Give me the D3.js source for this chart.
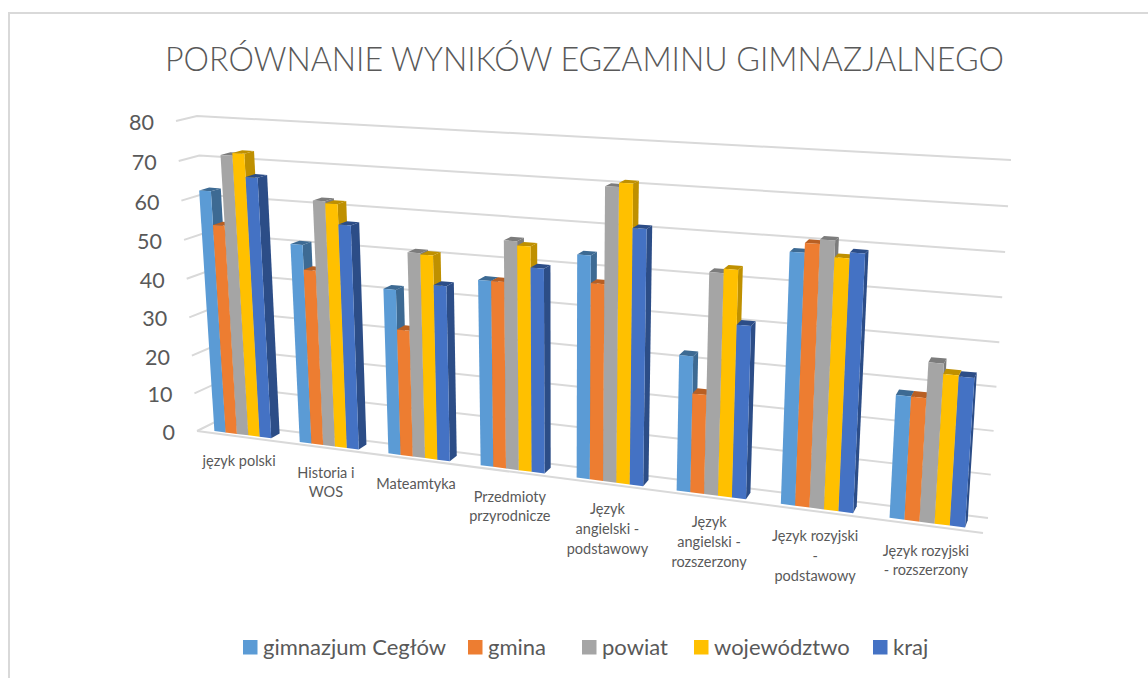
<!DOCTYPE html>
<html>
<head>
<meta charset="utf-8">
<script src="https://cdnjs.cloudflare.com/ajax/libs/d3/7.8.5/d3.min.js"></script>
<style>
body { margin: 0; background: #fff; }
text { font-family: Lato, "Open Sans", sans-serif; fill: #595959; }
</style>
</head>
<body>
<svg id="wykres" width="1148" height="678"></svg>
<script>
const kategorie = [
  ['język polski'],
  ['Historia i', 'WOS'],
  ['Mateamtyka'],
  ['Przedmioty', 'przyrodnicze'],
  ['Język', 'angielski -', 'podstawowy'],
  ['Język', 'angielski -', 'rozszerzony'],
  ['Język rozyjski', '-', 'podstawowy'],
  ['Język rozyjski', '- rozszerzony']
];
const serie = ['gimnazjum Cegłów', 'gmina', 'powiat', 'województwo', 'kraj'];
const gimnazjum = [62.5, 50.7, 41.5, 45.7, 53.7, 32.2, 58, 28];
const gmina = [54, 44.5, 31.7, 45.7, 47.2, 23.5, 60.2, 28];
const powiat = [71.8, 62, 51, 55.7, 70, 52, 61.2, 36];
const wojewodztwo = [72.5, 61.5, 50.7, 54.7, 71, 53, 57.5, 33.7];
const kraj = [66.7, 56.5, 43.5, 49.7, 60.8, 40.5, 58.8, 33.5];
const wartosci = [gimnazjum, gmina, powiat, wojewodztwo, kraj];
const kolory = ['#5b9bd5', '#ed7d31', '#a5a5a5', '#ffc000', '#4472c4'];
const ciemne = ['#3d6a93', '#b85f23', '#7c7c7c', '#bf9000', '#2c4d87'];
const ticki = [0, 10, 20, 30, 40, 50, 60, 70, 80];

const svg = d3.select('#wykres');

// ramka wykresu
svg.append('path')
  .attr('d', 'M9,678V13H1148')
  .attr('fill', 'none')
  .attr('stroke', '#d9d9d9')
  .attr('stroke-width', 2);

// narozniki "pudelka" 3D: p[u][v][d]
const rogi = {
  '000': [197, 431], '010': [176, 121], '001': [215, 422], '011': [197, 116],
  '100': [983, 533], '110': [1007, 165], '101': [988, 518], '111': [1011, 160]
};
const perspektywa = k => t => t * (1 - k) / (1 - k * t);
const fu = perspektywa(0.15);
const fv = perspektywa(0.035);

const skalaU = d3.scaleLinear().domain([0, kategorie.length]).range([0, 1]);
const skalaV = d3.scaleLinear().domain([0, 80]).range([0, 1]);
const lerp = (a, b, t) => a + (b - a) * t;

// kategoria (moze byc ulamkowa), wartosc, glebokosc -> piksele
function rzut(k, w, g) {
  const u = fu(skalaU(k)), v = fv(skalaV(w));
  return [0, 1].map(o => {
    const c = s => rogi[s][o];
    const d0 = lerp(lerp(c('000'), c('100'), u), lerp(c('010'), c('110'), u), v);
    const d1 = lerp(lerp(c('001'), c('101'), u), lerp(c('011'), c('111'), u), v);
    return lerp(d0, d1, g);
  });
}

const linia = d3.line();

// siatka
const siatka = svg.append('g').attr('fill', 'none').attr('stroke', '#d9d9d9').attr('stroke-width', 2);
ticki.forEach(t => {
  siatka.append('path').attr('d', linia([rzut(0, t, 0), rzut(0, t, 1), rzut(kategorie.length, t, 1)]));
});
siatka.append('path').attr('d', linia([rzut(0, 0, 0), rzut(kategorie.length, 0, 0)]));

// slupki
const przerwa = 0.165, sz = (1 - 2 * przerwa) / serie.length;
const przod = 0.2, tyl = 0.7;
const slupki = svg.append('g');
kategorie.forEach((_, i) => {
  wartosci.forEach((seria, s) => {
    const w = seria[i];
    const k0 = i + przerwa + s * sz, k1 = k0 + sz;
    const g = slupki.append('g');
    g.append('path').attr('fill', ciemne[s])
      .attr('d', linia([rzut(k1, 0, przod), rzut(k1, 0, tyl), rzut(k1, w, tyl), rzut(k1, w, przod)]) + 'Z');
    g.append('path').attr('fill', ciemne[s])
      .attr('d', linia([rzut(k0, w, przod), rzut(k1, w, przod), rzut(k1, w, tyl), rzut(k0, w, tyl)]) + 'Z');
    g.append('path').attr('fill', kolory[s])
      .attr('d', linia([rzut(k0, 0, przod), rzut(k1, 0, przod), rzut(k1, w, przod), rzut(k0, w, przod)]) + 'Z');
  });
});

// etykiety osi Y
svg.append('g').selectAll('text').data(ticki).join('text')
  .attr('x', d => rzut(0, d, 0)[0] - 22)
  .attr('y', d => rzut(0, d, 0)[1] + 9)
  .attr('text-anchor', 'end')
  .attr('font-size', 21.5)
  .text(d => d);

// etykiety kategorii
const etykiety = svg.append('g').selectAll('text').data(kategorie).join('text')
  .attr('text-anchor', 'middle')
  .attr('font-size', 14.5);
etykiety.each(function (d, i) {
  const p = rzut(i + 0.5, 0, 0);
  const y0 = p[1] + 30;
  d3.select(this).selectAll('tspan').data(d).join('tspan')
    .attr('x', p[0])
    .attr('y', (t, j) => y0 + j * 19.7)
    .text(t => t);
});

// tytul
svg.append('text')
  .attr('x', 584.5).attr('y', 71)
  .attr('text-anchor', 'middle')
  .attr('font-size', 33)
  .attr('font-weight', 300)
  .attr('textLength', 839)
  .attr('lengthAdjust', 'spacingAndGlyphs')
  .text('PORÓWNANIE WYNIKÓW EGZAMINU GIMNAZJALNEGO');

// legenda
const legendaX = d3.scaleOrdinal().domain(serie).range([243, 468, 582, 694, 873]);
const legenda = svg.append('g').selectAll('g').data(serie).join('g')
  .attr('transform', d => `translate(${legendaX(d)},640)`);
legenda.append('rect')
  .attr('width', 14.5).attr('height', 14.5)
  .attr('fill', (d, i) => kolory[i]);
legenda.append('text')
  .attr('x', 20).attr('y', 15)
  .attr('font-size', 22)
  .text(d => d);
</script>
</body>
</html>
